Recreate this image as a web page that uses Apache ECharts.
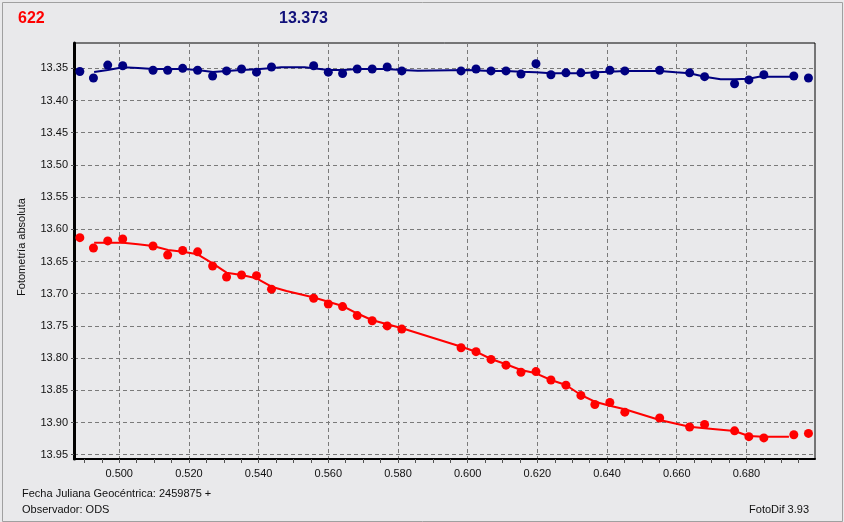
<!DOCTYPE html>
<html>
<head>
<meta charset="utf-8">
<script src="https://cdn.jsdelivr.net/npm/echarts@6/dist/echarts.min.js"></script>
<style>
html,body{margin:0;padding:0;background:#e9e9eb;}
#c{width:844px;height:522px;}
</style>
</head>
<body>
<div id="c"></div>
<script>
// Julian date fraction (shared by both series)
var jd = [0.4887, 0.4926, 0.4967, 0.5010, 0.5097, 0.5139, 0.5182, 0.5225, 0.5268, 0.5308,
          0.5351, 0.5394, 0.5437, 0.5558, 0.5600, 0.5641, 0.5683, 0.5726, 0.5769, 0.5811,
          0.5981, 0.6024, 0.6067, 0.6110, 0.6153, 0.6196, 0.6239, 0.6282, 0.6325, 0.6365,
          0.6408, 0.6451, 0.6551, 0.6637, 0.6680, 0.6766, 0.6807, 0.6850, 0.6936, 0.6978];
// comparison star (blue)
var compMag = [13.355, 13.365, 13.345, 13.346, 13.353, 13.353, 13.350, 13.353, 13.362, 13.354,
               13.351, 13.356, 13.348, 13.346, 13.356, 13.358, 13.351, 13.351, 13.348, 13.354,
               13.354, 13.351, 13.354, 13.354, 13.359, 13.343, 13.360, 13.357, 13.357, 13.360,
               13.353, 13.354, 13.353, 13.357, 13.363, 13.374, 13.368, 13.360, 13.362, 13.365];
// target (red)
var targMag = [13.613, 13.629, 13.618, 13.615, 13.626, 13.640, 13.633, 13.635, 13.657, 13.674,
               13.671, 13.672, 13.693, 13.707, 13.716, 13.720, 13.734, 13.742, 13.750, 13.755,
               13.784, 13.790, 13.802, 13.811, 13.822, 13.821, 13.834, 13.842, 13.858, 13.872,
               13.869, 13.884, 13.893, 13.907, 13.903, 13.913, 13.922, 13.924, 13.919, 13.917];
// smoothed curves
var compFitX = [0.4928, 0.4967, 0.4968, 0.5011, 0.5054, 0.5097, 0.5183, 0.5224, 0.5269, 0.5308,
                0.5351, 0.5394, 0.5441, 0.5465, 0.5532, 0.5558, 0.5600, 0.5642, 0.5683, 0.5766,
                0.5811, 0.5857, 0.6000, 0.6067, 0.6110, 0.6153, 0.6196, 0.6239, 0.6325, 0.6368,
                0.6408, 0.6451, 0.6551, 0.6597, 0.6637, 0.6680, 0.6726, 0.6766, 0.6807, 0.6836, 0.6936];
var compFitY = [13.3557, 13.3526, 13.3500, 13.3484, 13.3495, 13.3511, 13.3511, 13.3526, 13.3557, 13.3542,
                13.3526, 13.3516, 13.3495, 13.3484, 13.3484, 13.3500, 13.3526, 13.3526, 13.3511, 13.3511,
                13.3526, 13.3537, 13.3526, 13.3542, 13.3542, 13.3553, 13.3562, 13.3578, 13.3578, 13.3562,
                13.3553, 13.3542, 13.3542, 13.3562, 13.3578, 13.3630, 13.3671, 13.3671, 13.3661, 13.3630, 13.3630];
var targFitX = [0.4928, 0.5011, 0.5054, 0.5097, 0.5140, 0.5183, 0.5225, 0.5268, 0.5308, 0.5351,
                0.5394, 0.5437, 0.5480, 0.5556, 0.5600, 0.5641, 0.5682, 0.5725, 0.5769, 0.5812,
                0.5982, 0.6024, 0.6067, 0.6110, 0.6153, 0.6196, 0.6239, 0.6282, 0.6325, 0.6365,
                0.6408, 0.6451, 0.6551, 0.6637, 0.6680, 0.6766, 0.6806, 0.6849, 0.6922];
var targFitY = [13.6208, 13.6208, 13.6233, 13.6259, 13.6321, 13.6348, 13.6388, 13.6528, 13.6674, 13.6710,
                13.6761, 13.6891, 13.6958, 13.7056, 13.7124, 13.7191, 13.7304, 13.7408, 13.7475, 13.7537,
                13.7823, 13.7901, 13.8014, 13.8096, 13.8185, 13.8236, 13.8340, 13.8418, 13.8573, 13.8677,
                13.8739, 13.8795, 13.8961, 13.9065, 13.9090, 13.9132, 13.9210, 13.9220, 13.9220];
// axis ticks
var xTickLabels = [0.500, 0.520, 0.540, 0.560, 0.580, 0.600, 0.620, 0.640, 0.660, 0.680];
var xMinorTicks = [0.490, 0.495, 0.500, 0.505, 0.510, 0.515, 0.520, 0.525, 0.530, 0.535, 0.540,
                   0.545, 0.550, 0.555, 0.560, 0.565, 0.570, 0.575, 0.580, 0.585, 0.590, 0.595,
                   0.600, 0.605, 0.610, 0.615, 0.620, 0.625, 0.630, 0.635, 0.640, 0.645, 0.650,
                   0.655, 0.660, 0.665, 0.670, 0.675, 0.680, 0.685, 0.690, 0.695];
var yTickLabels = [13.35, 13.40, 13.45, 13.50, 13.55, 13.60, 13.65, 13.70, 13.75, 13.80, 13.85, 13.90, 13.95];

var headerTarget = '622';
var headerComp = '13.373';
var yTitle = 'Fotometría absoluta';
var footJD = 'Fecha Juliana Geocéntrica: 2459875 +';
var footObs = 'Observador: ODS';
var footSoft = 'FotoDif 3.93';

function zip(a, b) { return a.map(function (v, i) { return [v, b[i]]; }); }

var FONT = 'Liberation Sans';
var chart = echarts.init(document.getElementById('c'), null, {renderer: 'canvas'});
chart.setOption({
  backgroundColor: '#e9e9eb',
  animation: false,
  grid: {left: 74, top: 43, right: 29, bottom: 63, show: true, borderColor: '#000', borderWidth: 1, backgroundColor: 'transparent'},
  xAxis: [{
    type: 'value', min: 0.48702, max: 0.69968,
    axisLine: {show: true, onZero: false, lineStyle: {color: '#000', width: 2}},
    axisTick: {show: true, customValues: xTickLabels, length: 4, lineStyle: {color: '#555'}},
    axisLabel: {customValues: xTickLabels, formatter: function (v) { return v.toFixed(3); }, color: '#111', fontFamily: FONT, fontSize: 11, margin: 9},
    splitLine: {show: true, lineStyle: {color: '#7a7a7a', type: [4, 3], width: 1}}
  }, {
    type: 'value', min: 0.48702, max: 0.69968, position: 'bottom', gridIndex: 0,
    axisLine: {show: false},
    axisTick: {show: true, customValues: xMinorTicks, length: 4, lineStyle: {color: '#555'}},
    axisLabel: {show: false},
    splitLine: {show: false}
  }],
  yAxis: {
    type: 'value', inverse: true, min: 13.3107, max: 13.9567,
    axisLine: {show: true, onZero: false, lineStyle: {color: '#000', width: 3}},
    axisTick: {show: true, customValues: yTickLabels, length: 3, lineStyle: {color: '#555'}},
    axisLabel: {customValues: yTickLabels, formatter: function (v) { return v.toFixed(2); }, color: '#111', fontFamily: FONT, fontSize: 11, margin: 6},
    splitLine: {show: true, lineStyle: {color: '#7a7a7a', type: [4, 3], width: 1}}
  },
  series: [
    {type: 'line', data: zip(compFitX, compFitY), showSymbol: false, symbol: 'none', lineStyle: {color: '#000080', width: 2}, z: 3},
    {type: 'scatter', data: zip(jd, compMag), symbol: 'circle', symbolSize: 9, itemStyle: {color: '#000080', opacity: 1}, z: 4},
    {type: 'line', data: zip(targFitX, targFitY), showSymbol: false, symbol: 'none', lineStyle: {color: '#ff0000', width: 2}, z: 3},
    {type: 'scatter', data: zip(jd, targMag), symbol: 'circle', symbolSize: 9, itemStyle: {color: '#ff0000', opacity: 1}, z: 4}
  ],
  graphic: [
    {type: 'rect', left: 0, top: 0, shape: {x: 0.5, y: 0.5, width: 840, height: 519}, style: {fill: 'none', stroke: '#a0a0a0', lineWidth: 1}, silent: true},
    {type: 'text', left: 18, top: 11, style: {text: headerTarget, fill: '#ff0000', font: 'bold 16px "Liberation Sans"'}},
    {type: 'text', left: 279, top: 11, style: {text: headerComp, fill: '#10107a', font: 'bold 16px "Liberation Sans"'}},
    {type: 'text', x: 22, y: 247, rotation: Math.PI / 2, style: {text: yTitle, fill: '#111', font: '11px "Liberation Sans"', textAlign: 'center', textVerticalAlign: 'middle'}},
    {type: 'text', x: 22, y: 494, style: {text: footJD, fill: '#111', font: '11px "Liberation Sans"', textVerticalAlign: 'middle'}},
    {type: 'text', x: 22, y: 510, style: {text: footObs, fill: '#111', font: '11px "Liberation Sans"', textVerticalAlign: 'middle'}},
    {type: 'text', x: 809, y: 510, style: {text: footSoft, fill: '#111', font: '11px "Liberation Sans"', textAlign: 'right', textVerticalAlign: 'middle'}}
  ]
});
</script>
</body>
</html>
